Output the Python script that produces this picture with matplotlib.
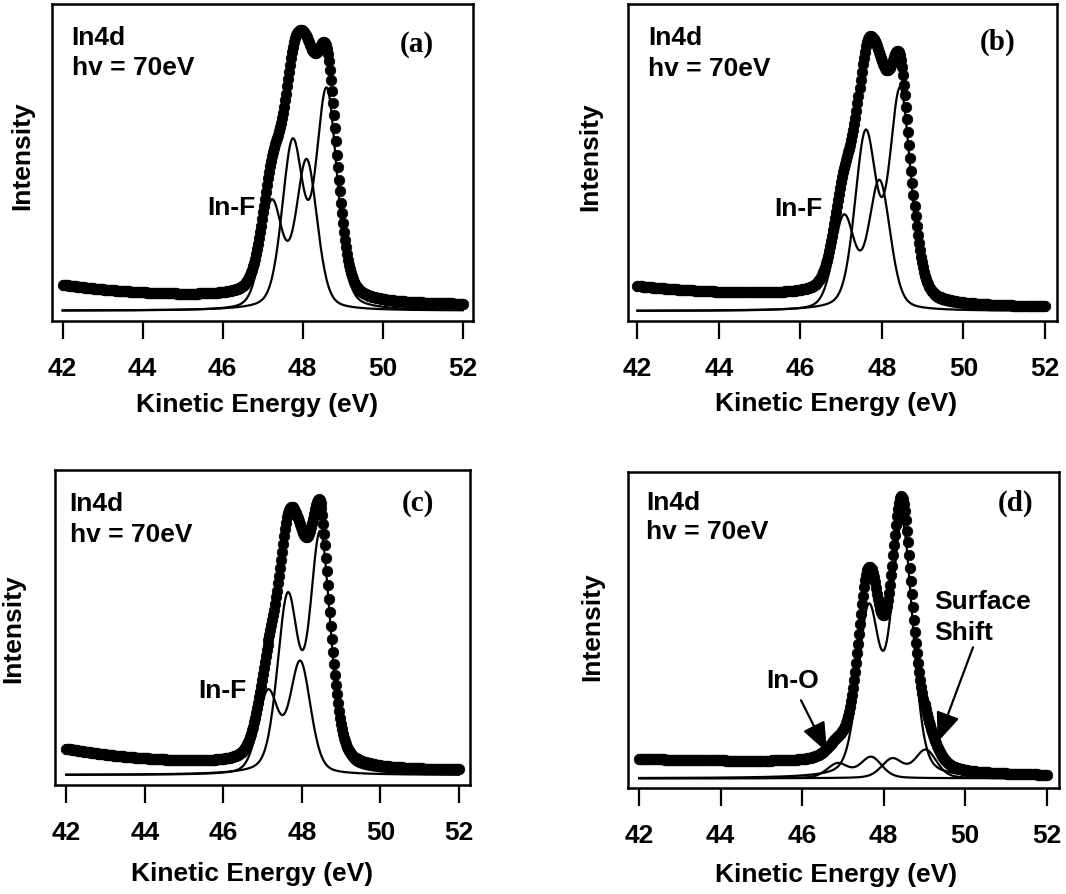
import numpy as np
import matplotlib.pyplot as plt

plt.rcParams['font.family'] = ['Liberation Sans', 'DejaVu Sans']
plt.rcParams['font.weight'] = 'bold'

# ---- values (intensity in arbitrary units) ----
tags = ['(a)', '(b)', '(c)', '(d)']

# each fitted component is a spin-orbit doublet: [low-KE peak, high-KE peak]
a_centres = [[47.23, 48.10], [47.75, 48.60]]
a_heights = [[106, 148], [164, 217]]
b_centres = [[47.07, 47.94], [47.60, 48.45]]
b_heights = [[92, 128], [173, 217]]
c_centres = [[47.14, 47.96], [47.64, 48.47]]
c_heights = [[81, 111], [173, 237]]
d_centres = [[47.63, 48.45], [46.87, 47.69], [48.21, 49.03]]
d_heights = [[164, 250], [14.5, 21], [19, 28]]
peak_fwhm = 0.62
lorentz_frac = 0.3

# background under the measured points: constant, low-KE tail, Shirley step
bg_const = [5.5, 3.5, 4.1, 0.0]
bg_tail = [15.0, 11.5, 18.9, 9.0]
bg_decay = [2.5, 2.5, 2.5, 8.0]
bg_step = [5.0, 9.5, 3.0, 10.0]

energy = np.arange(42.0, 52.0001, 0.025)
xticks = [42, 44, 46, 48, 50, 52]

centres = [a_centres, b_centres, c_centres, d_centres]
heights = [a_heights, b_heights, c_heights, d_heights]

# layout, pixels of the 1066x895 figure
W, H = 1066, 895
boxes = [(51.7, 473, 5, 321.7), (627.7, 1056.7, 5, 321.5),
         (55.2, 470, 471, 786), (627.5, 1059, 473, 789)]
xlims = [(41.725, 52.26), (41.76, 52.29), (41.717, 52.283), (41.713, 52.30)]
ylims = [(-10, 306.7), (-9.5, 307), (-10, 305), (-9.7, 306.3)]
xlab_x = [0.487, 0.486, 0.474, 0.483]
xlab_gap = [83, 83, 88, 86]
ylab_gap = [29, 37, 42, 35]
ylab_y = [0.525, 0.52, 0.5, 0.515]
head_x = [0.047, 0.047, 0.035, 0.043]
head_y = [(0.874, 0.778), (0.874, 0.776), (0.873, 0.775), (0.884, 0.79)]
tag_pos = [(0.866, 0.874), (0.862, 0.882), (0.874, 0.897), (0.90, 0.903)]
FS = 19


def peak(x, c, h):
    d = (x - c) / peak_fwhm
    g = np.exp(-4 * np.log(2) * d ** 2)
    l = 1.0 / (1 + 4 * d ** 2)
    return h * ((1 - lorentz_frac) * g + lorentz_frac * l)


fig = plt.figure(figsize=(W / 100, H / 100), dpi=100)

for i in range(4):
    x0, x1, y0, y1 = boxes[i]
    ax = fig.add_axes([x0 / W, 1 - y1 / H, (x1 - x0) / W, (y1 - y0) / H])

    comps = []
    for cs, hs in zip(centres[i], heights[i]):
        comps.append(sum(peak(energy, c, h) for c, h in zip(cs, hs)))
    total = sum(comps)
    shirley = np.cumsum(total[::-1])[::-1] / total.sum()
    bg = (bg_const[i] + bg_tail[i] * np.exp(-(energy - 42) / bg_decay[i])
          + bg_step[i] * shirley)
    data = total + bg

    ax.plot(energy, data, 'o', ms=7.6, color='k', mec='k', mew=0.5, zorder=2)
    for comp in comps:
        ax.plot(energy, comp, '-', color='k', lw=1.6, zorder=3)

    ax.set_xlim(*xlims[i])
    ax.set_ylim(*ylims[i])
    ax.set_xticks(xticks)
    ax.set_xticklabels([str(t) for t in xticks])
    ax.set_yticks([])
    ax.tick_params(axis='x', direction='out', length=13, width=1.6, pad=12.5,
                   labelsize=FS, top=False)
    for lab in ax.get_xticklabels():
        lab.set_fontweight('bold')
    for sp in ax.spines.values():
        sp.set_linewidth(1.8)

    ax.set_xlabel('Kinetic Energy (eV)', fontsize=FS, fontweight='bold')
    ax.xaxis.set_label_coords(xlab_x[i], -xlab_gap[i] / (y1 - y0))
    ax.xaxis.label.set_va('center')
    ax.set_ylabel('Intensity', fontsize=FS, fontweight='bold')
    ax.yaxis.set_label_coords(-ylab_gap[i] / (x1 - x0), ylab_y[i])
    ax.yaxis.label.set_va('center')

    ax.text(head_x[i], head_y[i][0], 'In4d', transform=ax.transAxes,
            fontsize=FS, fontweight='bold', va='baseline', ha='left')
    ax.text(head_x[i], head_y[i][1], 'hv = 70eV', transform=ax.transAxes,
            fontsize=FS, fontweight='bold', va='baseline', ha='left')
    ax.text(tag_pos[i][0], tag_pos[i][1], tags[i], transform=ax.transAxes,
            fontsize=21, fontweight='bold', family='Liberation Serif',
            va='center', ha='center')

    if i == 0:
        ax.text(46.82, 97, 'In-F', fontsize=FS, fontweight='bold', ha='right', va='baseline')
    elif i == 1:
        ax.text(46.55, 96, 'In-F', fontsize=FS, fontweight='bold', ha='right', va='baseline')
    elif i == 2:
        ax.text(46.6, 78, 'In-F', fontsize=FS, fontweight='bold', ha='right', va='baseline')
    else:
        ax.text(46.42, 91, 'In-O', fontsize=FS, fontweight='bold', ha='right', va='baseline')
        ax.text(49.23, 170, 'Surface', fontsize=FS, fontweight='bold', ha='left', va='baseline')
        ax.text(49.23, 139, 'Shift', fontsize=FS, fontweight='bold', ha='left', va='baseline')
        arrow = dict(arrowstyle='-|>,head_length=0.8,head_width=0.32', mutation_scale=23,
                     color='k', lw=1.6, shrinkA=0, shrinkB=0)
        ax.annotate('', xy=(46.61, 26), xytext=(45.97, 78), arrowprops=arrow)
        ax.annotate('', xy=(49.32, 36), xytext=(50.19, 131), arrowprops=arrow)

fig.savefig('out.png', dpi=100)
